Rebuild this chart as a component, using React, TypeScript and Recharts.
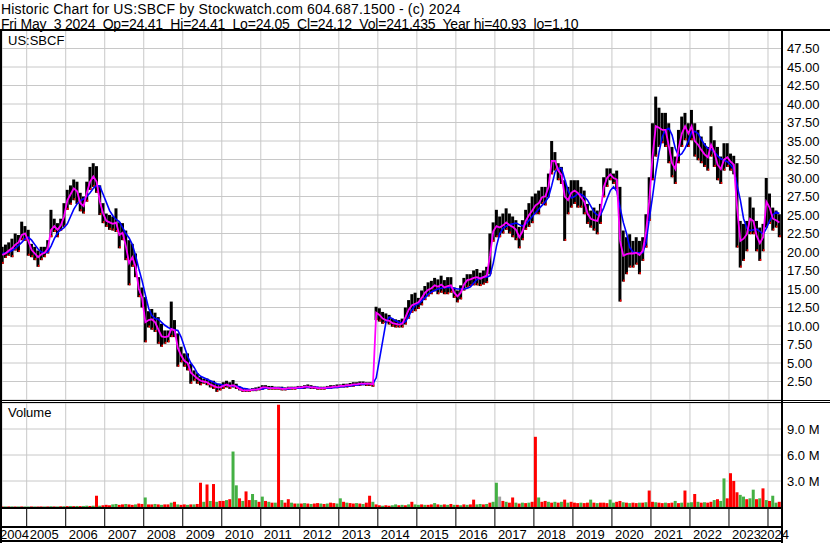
import React from 'react'
import { ComposedChart, Bar, Line, XAxis, YAxis, CartesianGrid, Cell } from 'recharts'

// monthly bars, May 2004 .. Apr 2024
const START_YEAR = 2004
const START_MONTH = 4

const YEARS = [2005, 2006, 2007, 2008, 2009, 2010, 2011, 2012, 2013, 2014, 2015, 2016, 2017, 2018, 2019, 2020, 2021, 2022, 2023, 2024]
const PRICE_TICKS = [2.5, 5, 7.5, 10, 12.5, 15, 17.5, 20, 22.5, 25, 27.5, 30, 32.5, 35, 37.5, 40, 42.5, 45, 47.5]
const VOL_TICKS = [3, 6, 9]

const HIGH = [
  20.7, 21.0, 21.3, 21.8, 22.5, 22.3, 24.1, 23.5,
  23.0, 21.1, 20.7, 20.2, 20.7, 20.7, 21.6, 25.7, 24.5, 23.9, 24.5, 26.6,
  28.4, 29.0, 29.8, 29.5, 28.0, 27.5, 29.5, 31.5, 32.0, 31.6, 29.0, 26.6,
  25.2, 25.0, 24.8, 25.9, 24.0, 23.9, 22.9, 21.6, 21.1, 19.8, 16.6, 15.2,
  13.9, 12.0, 12.3, 11.8, 11.2, 10.3, 9.4, 9.4, 13.3, 10.8, 9.0, 7.2,
  6.3, 6.3, 4.9, 4.0, 3.6, 3.1, 2.9, 2.9, 2.6, 2.6, 2.2, 2.2,
  2.4, 2.6, 2.4, 2.7, 2.2, 1.8, 1.6, 1.6, 1.5, 1.6, 1.7, 1.8,
  2.0, 2.0, 1.9, 1.9, 1.8, 1.8, 1.8, 1.7, 1.8, 1.8, 1.8, 1.9,
  1.9, 2.0, 2.1, 2.0, 1.9, 1.8, 1.8, 1.8, 1.9, 2.0, 2.0, 2.1,
  2.1, 2.2, 2.2, 2.3, 2.4, 2.4, 2.5, 2.5, 2.4, 2.4, 2.4, 12.6,
  12.4, 11.9, 11.7, 11.5, 11.0, 10.9, 10.8, 11.0, 12.5, 13.5, 14.3, 14.5,
  13.8, 14.8, 15.4, 15.9, 16.1, 16.5, 16.3, 16.8, 16.2, 16.6, 16.6, 15.2,
  14.8, 15.5, 16.5, 17.0, 17.0, 17.5, 17.7, 17.2, 17.5, 18.0, 22.5, 24.0,
  25.7, 24.8, 25.2, 25.9, 25.2, 24.8, 24.3, 23.4, 24.3, 25.7, 26.6, 27.5,
  27.9, 28.3, 28.8, 28.8, 30.6, 35.0, 33.5, 32.0, 31.5, 29.7, 28.8, 29.7,
  29.7, 29.7, 28.8, 28.3, 26.5, 25.6, 26.0, 25.6, 26.5, 30.1, 31.3, 31.3,
  30.6, 31.0, 28.8, 22.9, 22.0, 22.4, 21.5, 22.0, 21.5, 22.0, 25.1, 30.1,
  37.4, 41.0, 39.5, 38.8, 38.8, 37.4, 34.2, 32.9, 36.5, 38.3, 38.8, 37.4,
  39.2, 37.4, 36.5, 35.6, 34.7, 34.2, 37.0, 35.1, 34.2, 32.9, 34.7, 34.7,
  33.3, 33.0, 32.0, 24.2, 23.8, 24.2, 27.4, 26.0, 24.2, 23.3, 23.8, 30.0,
  27.9, 26.0, 25.6, 25.1,
]

const LOW = [
  18.4, 19.2, 19.5, 19.3, 20.2, 20.0, 21.6, 21.5,
  19.5, 19.3, 18.9, 18.0, 18.9, 19.3, 19.8, 22.0, 22.7, 22.0, 22.9, 23.4,
  25.7, 26.4, 27.0, 26.5, 25.5, 25.2, 26.8, 28.4, 28.8, 28.0, 25.0, 23.9,
  23.4, 23.0, 22.9, 22.7, 20.5, 21.6, 18.9, 15.5, 18.0, 16.6, 13.9, 12.5,
  7.8, 9.8, 9.5, 9.2, 7.6, 7.2, 7.6, 7.8, 8.5, 8.5, 4.5, 5.1,
  4.5, 4.0, 2.2, 2.6, 2.2, 2.0, 2.2, 2.0, 1.7, 1.5, 1.1, 1.3,
  1.5, 1.7, 1.5, 1.7, 1.5, 1.3, 1.1, 1.1, 1.1, 1.2, 1.2, 1.3,
  1.4, 1.5, 1.4, 1.4, 1.4, 1.4, 1.3, 1.3, 1.4, 1.4, 1.4, 1.5,
  1.5, 1.5, 1.6, 1.5, 1.5, 1.4, 1.4, 1.4, 1.5, 1.5, 1.6, 1.6,
  1.7, 1.7, 1.7, 1.8, 1.8, 1.9, 1.9, 2.0, 1.9, 1.9, 1.8, 10.8,
  10.6, 10.3, 10.4, 10.2, 9.9, 9.8, 9.8, 9.8, 10.2, 11.0, 11.8, 12.0,
  12.3, 12.8, 13.5, 14.0, 14.3, 14.7, 14.3, 14.5, 14.3, 14.3, 14.5, 13.8,
  13.2, 13.6, 14.8, 15.2, 15.4, 15.5, 15.5, 15.4, 15.6, 15.8, 17.0, 21.4,
  22.0, 22.0, 22.5, 23.0, 22.5, 22.0, 21.6, 20.5, 21.6, 23.0, 23.4, 23.9,
  25.1, 25.1, 26.5, 26.3, 27.4, 30.5, 31.0, 29.7, 29.2, 21.5, 25.1, 26.0,
  26.5, 26.0, 26.0, 25.1, 23.8, 23.3, 22.9, 22.4, 23.8, 27.4, 28.8, 29.7,
  29.2, 28.5, 13.3, 16.0, 17.0, 17.9, 17.9, 18.3, 17.0, 18.8, 20.6, 24.2,
  29.7, 32.9, 34.2, 34.7, 34.2, 32.0, 30.1, 29.2, 32.0, 34.2, 35.1, 34.2,
  35.1, 32.9, 32.4, 32.0, 31.5, 31.0, 32.9, 31.5, 29.7, 29.2, 31.0, 31.5,
  31.0, 30.5, 20.6, 17.9, 18.8, 20.1, 22.4, 22.4, 20.1, 18.8, 20.1, 23.3,
  23.8, 22.9, 23.3, 22.0,
]

// magenta, short average
const MA_FAST = [
  19.6, 19.8, 20.2, 20.5, 21.0, 21.3, 22.3, 22.5,
  21.5, 20.3, 19.8, 19.3, 19.7, 19.9, 20.5, 23.0, 23.5, 23.0, 23.6, 24.8,
  27.0, 27.8, 28.6, 28.2, 26.6, 26.2, 28.0, 29.5, 30.2, 29.5, 26.8, 25.2,
  24.2, 24.0, 23.8, 24.0, 22.3, 22.6, 20.8, 18.5, 19.3, 18.0, 15.0, 13.8,
  10.5, 10.8, 10.9, 10.5, 9.5, 8.6, 8.5, 8.6, 9.6, 9.4, 7.0, 6.0,
  5.3, 5.0, 3.7, 3.3, 2.9, 2.6, 2.5, 2.4, 2.1, 1.9, 1.7, 1.7,
  1.9, 2.1, 1.9, 2.0, 1.8, 1.5, 1.3, 1.3, 1.3, 1.4, 1.4, 1.5,
  1.7, 1.7, 1.6, 1.6, 1.6, 1.6, 1.5, 1.5, 1.6, 1.6, 1.6, 1.7,
  1.7, 1.8, 1.8, 1.7, 1.7, 1.6, 1.6, 1.6, 1.7, 1.7, 1.8, 1.8,
  1.9, 1.9, 2.0, 2.0, 2.1, 2.1, 2.2, 2.2, 2.2, 2.2, 2.1, 11.8,
  11.5, 11.0, 10.8, 10.7, 10.4, 10.3, 10.2, 10.3, 11.2, 12.2, 12.8, 13.0,
  13.2, 13.8, 14.5, 14.9, 15.1, 15.5, 15.3, 15.6, 15.2, 15.4, 15.5, 14.5,
  14.0, 14.5, 15.6, 16.2, 16.3, 16.5, 16.6, 16.4, 16.6, 16.8, 19.5, 22.8,
  23.5, 23.3, 23.6, 24.0, 23.6, 23.4, 23.0, 22.0, 22.8, 24.2, 25.0, 25.6,
  26.3, 26.6, 27.4, 27.5, 28.8, 32.3, 32.3, 31.0, 30.4, 27.5, 27.0, 28.0,
  28.3, 28.0, 27.4, 26.8, 25.2, 24.5, 24.3, 24.2, 25.5, 28.8, 30.0, 30.5,
  30.0, 29.8, 21.5, 19.5, 19.7, 19.8, 19.8, 19.9, 19.6, 20.2, 22.8, 27.0,
  33.0, 37.0, 36.8, 36.5, 36.5, 34.3, 32.0, 31.2, 34.0, 36.0, 37.0, 36.0,
  37.0, 35.0, 34.5, 33.8, 33.2, 32.8, 34.5, 33.5, 31.8, 31.2, 32.5, 32.8,
  32.2, 31.8, 26.0, 21.5, 21.8, 22.4, 24.5, 24.2, 22.2, 21.2, 22.0, 26.8,
  26.0, 24.5, 24.3, 24.0,
]

// blue, long average
const MA_SLOW = [
  19.8, 19.9, 20.0, 20.2, 20.5, 20.9, 21.3, 21.8,
  22.0, 21.6, 21.0, 20.4, 20.0, 19.9, 20.0, 20.8, 21.8, 22.6, 23.0, 23.3,
  23.8, 24.8, 25.8, 26.5, 26.9, 27.2, 27.5, 28.0, 28.6, 29.0, 28.9, 27.8,
  26.7, 25.6, 24.9, 24.4, 24.1, 23.3, 22.5, 21.9, 21.0, 19.5, 17.7, 16.1,
  14.2, 12.4, 11.4, 11.0, 10.9, 10.5, 10.1, 9.8, 9.6, 9.5, 9.4, 8.5,
  7.2, 5.9, 5.0, 4.4, 3.6, 3.2, 3.0, 2.8, 2.6, 2.4, 2.2, 2.1,
  2.0, 2.0, 1.9, 1.9, 1.9, 1.8, 1.6, 1.5, 1.4, 1.4, 1.4, 1.5,
  1.5, 1.6, 1.6, 1.6, 1.6, 1.6, 1.6, 1.5, 1.5, 1.6, 1.6, 1.6,
  1.6, 1.7, 1.7, 1.7, 1.7, 1.7, 1.6, 1.6, 1.6, 1.6, 1.7, 1.7,
  1.8, 1.8, 1.9, 1.9, 2.0, 2.0, 2.1, 2.1, 2.2, 2.2, 2.2, 3.0,
  5.5, 8.0, 10.5, 11.2, 11.0, 10.7, 10.5, 10.4, 10.6, 11.3, 12.2, 12.8,
  13.0, 13.4, 13.8, 14.3, 14.6, 14.8, 15.0, 15.1, 15.2, 15.2, 15.2, 15.1,
  15.0, 15.0, 15.0, 15.1, 15.3, 15.8, 16.3, 16.5, 16.6, 16.6, 16.8, 18.5,
  20.8, 22.5, 23.2, 23.5, 23.7, 23.8, 23.9, 23.7, 23.5, 23.8, 24.3, 24.8,
  25.3, 25.8, 26.3, 26.8, 27.4, 29.0, 30.8, 31.3, 31.3, 29.8, 28.3, 27.3,
  27.5, 27.9, 27.8, 27.5, 27.0, 26.2, 25.4, 25.0, 25.0, 26.0, 27.2, 28.3,
  28.8, 28.2, 26.0, 24.0, 22.5, 20.6, 20.0, 19.9, 19.9, 19.9, 21.3, 24.5,
  27.5, 30.8, 33.5, 35.6, 36.5, 36.7, 35.8, 34.0, 33.0, 33.3, 34.0, 35.0,
  36.2, 36.3, 36.0, 35.2, 34.5, 34.0, 33.9, 33.5, 33.0, 32.6, 32.4, 32.2,
  31.8, 31.2, 29.0, 27.0, 24.5, 23.2, 22.9, 23.0, 23.1, 22.8, 22.4, 23.2,
  24.2, 25.0, 25.4, 25.2,
]

// millions of shares
const VOLUME = [
  0.05, 0.05, 0.05, 0.06, 0.05, 0.05, 0.06, 0.05,
  0.05, 0.06, 0.05, 0.05, 0.06, 0.05, 0.06, 0.08, 0.06, 0.05, 0.08, 0.1,
  0.1, 0.12, 0.1, 0.12, 0.1, 0.12, 0.15, 0.12, 0.15, 1.3, 0.15, 0.2,
  0.25, 0.2, 0.3, 0.35, 0.25, 0.3, 0.35, 0.3, 0.25, 0.3, 0.4, 0.35,
  1.1, 0.3, 0.3, 0.35, 0.3, 0.25, 0.3, 0.3, 0.5, 0.6, 0.3, 0.25,
  0.3, 0.25, 0.3, 0.3, 0.35, 2.8, 0.6, 2.6, 0.7, 2.65, 0.6, 0.7,
  0.7, 0.8, 0.9, 6.4, 2.5, 1.0, 0.7, 1.8, 0.8, 1.5, 0.8, 0.6,
  1.2, 0.7, 0.6, 0.5, 0.5, 11.8, 0.8, 0.5, 0.9, 0.5, 0.4, 0.4,
  0.4, 0.45, 0.4, 0.35, 0.4, 0.45, 0.4, 0.35, 0.4, 0.5, 0.45, 0.4,
  1.0, 0.6, 0.5, 0.45, 0.4, 0.45, 0.4, 0.35, 0.5, 1.3, 0.6, 0.3,
  0.2, 0.15, 0.2, 0.15, 0.2, 0.3, 0.2, 0.25, 0.2, 0.3, 0.6, 0.3,
  0.25, 0.3, 0.25, 0.25, 0.3, 0.45, 0.3, 0.25, 0.3, 0.25, 0.35, 0.25,
  0.25, 0.2, 0.3, 0.25, 0.3, 0.85, 0.3, 0.35, 0.3, 0.35, 0.5, 0.6,
  2.8, 1.2, 0.7, 0.6, 0.5, 1.1, 0.5, 0.4, 0.5, 0.45, 0.5, 0.6,
  8.1, 1.1, 0.6, 0.7, 0.6, 0.5, 0.6, 0.5, 0.6, 0.85, 0.5, 0.6,
  0.5, 0.45, 0.5, 0.45, 0.5, 0.85, 0.5, 0.45, 0.5, 0.5, 0.45, 0.85,
  0.5, 0.6, 0.7, 0.55, 0.5, 0.45, 0.5, 0.45, 0.5, 0.5, 0.55, 1.9,
  0.6, 0.55, 0.5, 0.45, 0.5, 0.45, 0.5, 0.7, 0.45, 0.5, 1.9, 0.5,
  0.55, 1.5, 0.6, 0.5, 0.55, 0.5, 0.6, 0.8, 0.9, 0.7, 3.3, 1.0,
  3.9, 3.0, 1.7, 1.4, 1.2, 0.9, 1.0, 2.0, 0.9, 1.0, 2.15, 0.8,
  0.7, 1.3, 0.5, 0.6,
]

// r = down, g = up, k = unchanged
const VOL_SIDE =
  'rgrgrgrg' +
  'grgrrgrgrgrg' +
  'rgrgrggrgrgr' +
  'rrggrrgrrgrr' +
  'grrgrgrrgrgr' +
  'rgrgrrgrgrgr' +
  'rgrggrgrrggr' +
  'grgrgrgrrgrg' +
  'rgrgrrgrgrrg' +
  'grgrrgrgrrgr' +
  'rgrrggrgrgrg' +
  'grgrrgrgrgrg' +
  'rgrgrrggrgrg' +
  'gkrgrrgrgrgr' +
  'rgrrgrgrgrgr' +
  'rrgrrgrgrrrg' +
  'grrgrgrrgrgr' +
  'rgrrgrrgrgrg' +
  'grgrgrrgrggr' +
  'rrrggrggrgrg' +
  'rggr'

const X_DOMAIN: [number, number] = [2004.367, 2024.359]
const FONT = '"Liberation Sans", Arial, sans-serif'
const GRID = '#c8c8c8'
const SIDE_COLORS: Record<string, string> = { r: '#ff0000', g: '#44b044', k: '#a0a0a0' }

const monthTime = (i: number) => START_YEAR + (START_MONTH + i) / 12 + 1 / 24

const priceData = HIGH.map((hi, i) => ({
  t: monthTime(i),
  range: [LOW[i], hi],
  fast: MA_FAST[i],
  slow: MA_SLOW[i],
}))

const volumeData = VOLUME.map((v, i) => ({ t: monthTime(i), vol: v, side: VOL_SIDE[i] }))

function PriceBar(props: any) {
  const { x, y, width, height } = props
  const h = Math.max(height, 1)
  return (
    <g>
      <rect x={x} y={y} width={width} height={h} fill="#000" />
      <rect x={x + width - 1.5} y={y + h - 2} width={1.5} height={2} fill="#ff0000" />
    </g>
  )
}

function YearTick(props: any) {
  const { x, y, payload } = props
  const v = payload.value
  const first = v < 2005
  const label = first ? '2004' : String(v)
  const tx = first ? x - 2 : v === 2024 ? x - 8 : x + 3
  return (
    <g>
      {!first && <line x1={x} x2={x} y1={y + 2} y2={y + 20} stroke="#000" strokeWidth={1} />}
      <text x={tx} y={y + 32} fontSize={13} fill="#000" fontFamily={FONT}>
        {label}
      </text>
    </g>
  )
}

const line = (left: number, top: number, width: number, height: number) => (
  <div style={{ position: 'absolute', left, top, width, height, background: '#000' }} />
)

const headerStyle = {
  position: 'absolute' as const,
  left: 1,
  fontSize: 14,
  lineHeight: '14px',
  whiteSpace: 'pre' as const,
  color: '#000',
}

export default function App() {
  const tickStyle = { fill: '#000', fontSize: 13, fontFamily: FONT }
  return (
    <div style={{ position: 'absolute', left: 0, top: 0, width: 830, height: 543, background: '#fff', overflow: 'hidden', fontFamily: FONT }}>
      {/* header */}
      <div style={{ ...headerStyle, top: 2, letterSpacing: '0.18px' }}>
        Historic Chart for US:SBCF by Stockwatch.com 604.687.1500 - (c) 2024
      </div>
      <div style={{ ...headerStyle, top: 16.5, letterSpacing: '-0.2px' }}>
        {'Fri May  3 2024  Op=24.41  Hi=24.41  Lo=24.05  Cl=24.12  Vol=241,435  Year hi=40.93  lo=1.10'}
      </div>

      {/* price panel */}
      <div style={{ position: 'absolute', left: 0, top: 30 }}>
        <ComposedChart width={830} height={370} data={priceData} margin={{ top: 0, right: 0, bottom: 0, left: 2 }}>
          <CartesianGrid stroke={GRID} strokeWidth={1} />
          <XAxis type="number" dataKey="t" domain={X_DOMAIN} ticks={YEARS} allowDataOverflow hide />
          <YAxis
            orientation="right"
            domain={[0, 50]}
            ticks={PRICE_TICKS}
            width={48}
            axisLine={false}
            tickLine={false}
            tickSize={0}
            tickMargin={5}
            tick={tickStyle}
            tickFormatter={(v: number) => v.toFixed(2)}
            interval={0}
          />
          <Bar dataKey="range" barSize={3} shape={<PriceBar />} isAnimationActive={false} />
          <Line type="linear" dataKey="slow" stroke="#0000ff" strokeWidth={1.6} dot={false} isAnimationActive={false} />
          <Line type="linear" dataKey="fast" stroke="#ff00ff" strokeWidth={1.8} dot={false} isAnimationActive={false} />
        </ComposedChart>
      </div>

      {/* volume panel */}
      <div style={{ position: 'absolute', left: 0, top: 403 }}>
        <ComposedChart width={830} height={138} data={volumeData} margin={{ top: 0, right: 0, bottom: 0, left: 2 }}>
          <CartesianGrid stroke={GRID} strokeWidth={1} />
          <XAxis
            type="number"
            dataKey="t"
            domain={X_DOMAIN}
            ticks={[X_DOMAIN[0], ...YEARS]}
            allowDataOverflow
            height={34}
            axisLine={false}
            tickLine={false}
            tickSize={0}
            tickMargin={0}
            interval={0}
            tick={<YearTick />}
          />
          <YAxis
            orientation="right"
            domain={[0, 12]}
            ticks={VOL_TICKS}
            width={48}
            axisLine={false}
            tickLine={false}
            tickSize={0}
            tickMargin={5}
            tick={tickStyle}
            tickFormatter={(v: number) => `${v.toFixed(1)} M`}
            interval={0}
          />
          <Bar dataKey="vol" barSize={3} isAnimationActive={false}>
            {volumeData.map((d, i) => (
              <Cell key={i} fill={SIDE_COLORS[d.side]} />
            ))}
          </Bar>
        </ComposedChart>
      </div>

      {/* panel labels */}
      <div style={{ position: 'absolute', left: 8, top: 34, fontSize: 13, lineHeight: '14px', color: '#000' }}>US:SBCF</div>
      <div style={{ position: 'absolute', left: 8, top: 406, fontSize: 13, lineHeight: '14px', color: '#000' }}>Volume</div>

      {/* frame */}
      {line(0, 29, 830, 2)}
      {line(0, 400, 830, 1)}
      {line(0, 402, 830, 1)}
      {line(0, 507, 782, 2)}
      {line(0, 526, 782, 2)}
      {line(0, 540, 782, 2)}
      {line(0, 30, 2, 513)}
      {line(781, 30, 2, 513)}
    </div>
  )
}
